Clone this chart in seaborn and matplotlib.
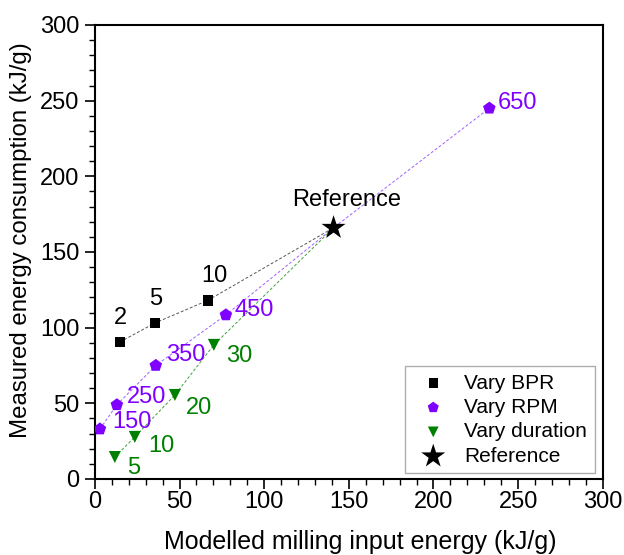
import matplotlib
matplotlib.use("Agg")
import matplotlib.pyplot as plt
import seaborn as sns
import pandas as pd

sns.set_theme(style="white")
plt.rcParams['font.family'] = ['Liberation Sans', 'DejaVu Sans']
plt.rcParams['text.color'] = 'black'
plt.rcParams['axes.labelcolor'] = 'black'
plt.rcParams['xtick.color'] = 'black'
plt.rcParams['ytick.color'] = 'black'

# Data
bpr_labels = ["2", "5", "10"]
bpr_x = [14.8, 35.4, 66.7]
bpr_y = [90.5, 103, 118]

rpm_labels = ["150", "250", "350", "450", "650"]
rpm_x = [3, 13, 36, 77.4, 233]
rpm_y = [33, 49, 75, 108.4, 245]

dur_labels = ["5", "10", "20", "30"]
dur_x = [11.8, 23.6, 47.3, 70.3]
dur_y = [14.5, 27.8, 55.5, 88.6]

ref_x = [141]
ref_y = [166]

c_bpr = "black"
c_rpm = "#8000ff"
c_dur = "#008000"

fig = plt.figure(figsize=(6.24, 5.55), dpi=100)
ax = fig.add_axes([0.152, 0.137, 0.814, 0.818])

# connecting lines through the reference point
bpr_line = pd.DataFrame({"x": bpr_x + ref_x, "y": bpr_y + ref_y})
rpm_line = pd.DataFrame({"x": rpm_x[:4] + ref_x + rpm_x[4:], "y": rpm_y[:4] + ref_y + rpm_y[4:]})
dur_line = pd.DataFrame({"x": dur_x + ref_x, "y": dur_y + ref_y})
for df, c in [(bpr_line, "#555555"), (rpm_line, "#a060ff"), (dur_line, "#40a040")]:
    sns.lineplot(data=df, x="x", y="y", ax=ax, color=c, lw=0.7, ls=(0, (3, 2)),
                 sort=False, estimator=None, legend=False)

sns.scatterplot(x=bpr_x, y=bpr_y, ax=ax, marker="s", s=55, color=c_bpr, edgecolor="none", label="Vary BPR", zorder=3)
sns.scatterplot(x=rpm_x, y=rpm_y, ax=ax, marker="p", s=90, color=c_rpm, edgecolor="none", label="Vary RPM", zorder=3)
sns.scatterplot(x=dur_x, y=dur_y, ax=ax, marker="v", s=75, color=c_dur, edgecolor="none", label="Vary duration", zorder=3)
sns.scatterplot(x=ref_x, y=ref_y, ax=ax, marker="*", s=330, color="black", edgecolor="none", label="Reference", zorder=4)

fs = 17
bpr_off = [(1, 24), (1, 24), (7, 24)]
for lab, x, y, off in zip(bpr_labels, bpr_x, bpr_y, bpr_off):
    ax.annotate(lab, (x, y), xytext=off, textcoords="offset pixels", color=c_bpr, fontsize=fs, ha="center", va="center")
rpm_off = [(12, 7), (10, 8), (10, 10), (9, 5), (8, 5)]
for lab, x, y, off in zip(rpm_labels, rpm_x, rpm_y, rpm_off):
    ax.annotate(lab, (x, y), xytext=off, textcoords="offset pixels", color=c_rpm, fontsize=fs, ha="left", va="center")
dur_off = [(12, -11), (13, -9), (11, -13), (12, -11)]
for lab, x, y, off in zip(dur_labels, dur_x, dur_y, dur_off):
    ax.annotate(lab, (x, y), xytext=off, textcoords="offset pixels", color=c_dur, fontsize=fs, ha="left", va="center")
ax.annotate("Reference", (ref_x[0], ref_y[0]), xytext=(13, 28), textcoords="offset pixels", color="black", fontsize=fs, ha="center", va="center")

ax.set_xlim(0, 300)
ax.set_ylim(0, 300)
ax.set_xticks(range(0, 301, 50))
ax.set_yticks(range(0, 301, 50))
ax.set_xticks(range(0, 301, 10), minor=True)
ax.set_yticks(range(0, 301, 10), minor=True)
ax.tick_params(axis="both", which="major", direction="out", length=7, width=1.2, labelsize=17, color="black",
               labelcolor="black", bottom=True, left=True, top=False, right=False)
ax.tick_params(axis="x", which="major", pad=1.5)
ax.tick_params(axis="y", which="major", pad=4)
ax.tick_params(axis="both", which="minor", direction="out", length=4, width=1, color="black",
               bottom=True, left=True, top=False, right=False)
for sp in ax.spines.values():
    sp.set_color("black")
    sp.set_linewidth(1.5)

ax.set_xlabel("Modelled milling input energy (kJ/g)", fontsize=18, color="black")
ax.set_ylabel("Measured energy consumption (kJ/g)", fontsize=17.3, color="black")
ax.xaxis.set_label_coords(0.522, -0.113)
ax.yaxis.set_label_coords(-0.124, 0.526)

leg = ax.legend(loc="lower right", fontsize=15, frameon=True, fancybox=False, edgecolor="#999999",
                borderpad=0.35, handletextpad=0.5, labelspacing=0.26, borderaxespad=0,
                bbox_to_anchor=(0.984, 0.013))
leg.get_frame().set_linewidth(1)
for h, sz in zip(leg.legend_handles, [45, 70, 60, 330]):
    h.set_sizes([sz])

fig.savefig("out.png", dpi=100)
